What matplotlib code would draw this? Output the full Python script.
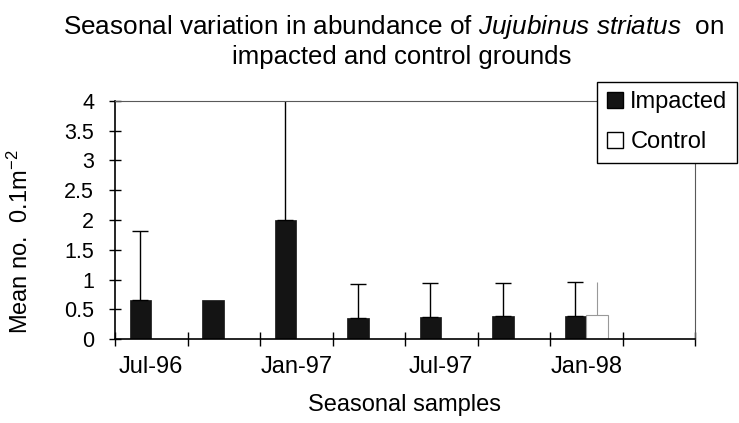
import matplotlib.pyplot as plt
from matplotlib.patches import Patch
import numpy as np

plt.rcParams['font.family'] = ['Liberation Sans', 'DejaVu Sans']
plt.rcParams['mathtext.fontset'] = 'custom'
plt.rcParams['mathtext.rm'] = 'Liberation Sans'
plt.rcParams['mathtext.it'] = 'Liberation Sans:italic'

# seasonal samples (only every other one is labelled on the axis)
categories = ['Jul-96', 'Oct-96', 'Jan-97', 'Apr-97', 'Jul-97', 'Oct-97', 'Jan-98', 'Apr-98']
impacted = [0.66, 0.66, 2.0, 0.35, 0.37, 0.39, 0.39, 0.0]
impacted_err = [1.16, 0.0, 2.4, 0.57, 0.57, 0.55, 0.57, 0.0]
control = [0.0, 0.0, 0.0, 0.0, 0.0, 0.0, 0.4, 0.0]
control_err = [0.0, 0.0, 0.0, 0.0, 0.0, 0.0, 0.56, 0.0]
yticks = [0, 0.5, 1, 1.5, 2, 2.5, 3, 3.5, 4]

fig = plt.figure(figsize=(7.39, 4.23), dpi=100)
ax = fig.add_axes([115/739, 1-339/423, 580/739, 238/423])

x = np.arange(len(categories))
w = 0.30
ax.bar(x - w/2, impacted, w, color='#141414', edgecolor='#141414', linewidth=0.5)
ax.bar(x + w/2, control, w, color='white', edgecolor='0.6', linewidth=0.8)

# upper error bars only
imp_mask = np.array(impacted_err) > 0
ax.errorbar((x - w/2)[imp_mask], np.array(impacted)[imp_mask],
            yerr=[np.zeros(imp_mask.sum()), np.array(impacted_err)[imp_mask]],
            fmt='none', ecolor='black', elinewidth=1, capsize=6, capthick=1)
con_mask = np.array(control_err) > 0
ax.errorbar((x + w/2)[con_mask], np.array(control)[con_mask],
            yerr=[np.zeros(con_mask.sum()), np.array(control_err)[con_mask]],
            fmt='none', ecolor='0.6', elinewidth=0.8, capsize=0)

ax.set_xlim(-0.5, len(categories) - 0.5)
ax.set_ylim(0, 4)
ax.set_yticks(yticks)
ax.set_yticklabels(['0', '0.5', '1', '1.5', '2', '2.5', '3', '3.5', '4'], fontsize=15.5)
ax.tick_params(axis='y', direction='inout', length=8, width=1, pad=11)

# ticks at category boundaries, labels at centres
ax.set_xticks(np.arange(len(categories) + 1) - 0.5)
ax.set_xticklabels([])
ax.tick_params(axis='x', which='major', direction='inout', length=10, width=1)
ax.set_xticks(x[::2], minor=True)
ax.set_xticklabels(categories[::2], minor=True, fontsize=17)
ax.tick_params(axis='x', which='minor', length=0, pad=12)

for s in ['left', 'bottom']:
    ax.spines[s].set_linewidth(1.2)
for s in ['top', 'right']:
    ax.spines[s].set_linewidth(0.8)
    ax.spines[s].set_color('0.35')

ax.set_xlabel('Seasonal samples', fontsize=17, labelpad=12)
ax.set_ylabel('Mean no.  0.1m$^{\\mathrm{-2}}$', fontsize=17)
ax.yaxis.set_label_coords(-0.142, 0.41)

fig.text(0.532, 1-27/423, 'Seasonal variation in abundance of $\\it{Jujubinus\\ striatus}$  on',
         ha='center', va='center', fontsize=18.8)
fig.text(0.543, 1-57/423, 'impacted and control grounds', ha='center', va='center', fontsize=18.5)

handles = [Patch(facecolor='#141414', edgecolor='black'),
           Patch(facecolor='white', edgecolor='black')]
leg = fig.legend(handles, ['Impacted', 'Control'], loc='upper right',
                 bbox_to_anchor=(737/739, 1-82/423), fontsize=17, frameon=True,
                 fancybox=False, framealpha=1, edgecolor='black',
                 handlelength=0.7, handleheight=0.7, handletextpad=0.3,
                 labelspacing=0.75, borderpad=0.4, borderaxespad=0)
leg.get_frame().set_linewidth(1)

fig.savefig('out.png', dpi=100)
